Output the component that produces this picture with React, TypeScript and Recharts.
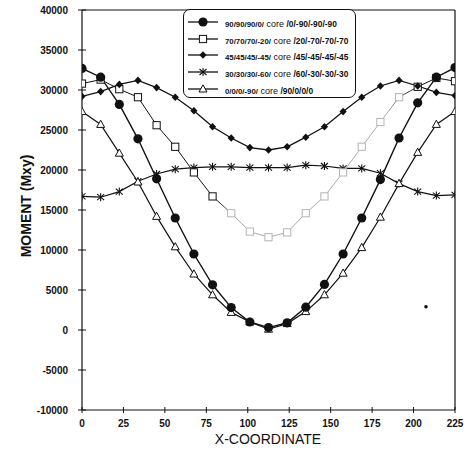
import React from "react"
import {
  LineChart,
  Line,
  XAxis,
  YAxis,
  ReferenceLine,
  ReferenceDot,
} from "recharts"

const xCoords = [0, 11.25, 22.5, 33.75, 45, 56.25, 67.5, 78.75, 90, 101.25, 112.5, 123.75, 135, 146.25, 157.5, 168.75, 180, 191.25, 202.5, 213.75, 225]

const m90 = [32700, 31600, 28200, 23900, 18900, 14000, 9500, 5650, 2800, 1000, 300, 900, 2850, 5700, 9500, 14000, 18800, 24000, 28400, 31600, 32800]
const m70 = [30800, 31300, 30100, 29100, 25600, 22900, 19700, 16700, 14600, 12300, 11600, 12200, 14600, 16700, 19700, 22900, 26000, 29100, 30400, 31500, 31100]
const m45 = [29200, 29800, 30700, 31200, 30300, 29100, 27400, 25400, 24000, 22800, 22500, 22900, 24100, 25400, 27300, 29100, 30500, 31200, 30500, 29700, 29300]
const m30 = [16700, 16600, 17300, 18600, 19500, 20100, 20300, 20400, 20400, 20300, 20300, 20300, 20600, 20500, 20200, 20200, 19600, 18300, 17300, 16800, 16900]
const m0 = [27300, 25700, 22100, 18500, 14200, 10400, 7000, 4400, 2200, 1000, 100, 800, 2300, 4400, 7100, 10300, 14100, 18300, 22200, 25700, 27300]

const xTicks = [0, 25, 50, 75, 100, 125, 150, 175, 200, 225]
const yTicks = [-10000, -5000, 0, 5000, 10000, 15000, 20000, 25000, 30000, 35000, 40000]

// stray speck on the scanned figure
const speck = { x: 207.5, y: 2900 }

const legendRows = [
  { key: "m90", shape: "circle", left: "90/90/90/0/", right: "/0/-90/-90/-90" },
  { key: "m70", shape: "square", left: "70/70/70/-20/", right: "/20/-70/-70/-70" },
  { key: "m45", shape: "diamond", left: "45/45/45/-45/", right: "/45/-45/-45/-45" },
  { key: "m30", shape: "star", left: "30/30/30/-60/", right: "/60/-30/-30/-30" },
  { key: "m0", shape: "triangle", left: "0/0/0/-90/", right: "/90/0/0/0" },
]

const data = xCoords.map((x, i) => ({
  x,
  m90: m90[i],
  m70: m70[i],
  m45: m45[i],
  m30: m30[i],
  m0: m0[i],
}))

const INK = "#111"
const FONT = "'Liberation Sans', Arial, sans-serif"

function Marker({ shape, cx, cy, faint }: { shape: string; cx: number; cy: number; faint?: boolean }) {
  const c = faint ? "#b5b5b5" : INK
  switch (shape) {
    case "circle":
      return <circle cx={cx} cy={cy} r={4.6} fill={c} />
    case "square":
      return <rect x={cx - 3.6} y={cy - 3.6} width={7.2} height={7.2} fill="#fff" stroke={c} strokeWidth={1} />
    case "diamond":
      return <polygon points={`${cx},${cy - 3.8} ${cx + 3.6},${cy} ${cx},${cy + 3.8} ${cx - 3.6},${cy}`} fill={c} />
    case "star":
      return (
        <g stroke={c} strokeWidth={1.1}>
          <line x1={cx} y1={cy - 4} x2={cx} y2={cy + 4} />
          <line x1={cx - 3.5} y1={cy - 3} x2={cx + 3.5} y2={cy + 3} />
          <line x1={cx - 3.5} y1={cy + 3} x2={cx + 3.5} y2={cy - 3} />
        </g>
      )
    default:
      return <polygon points={`${cx},${cy - 4.2} ${cx + 4},${cy + 3} ${cx - 4},${cy + 3}`} fill="#fff" stroke={c} strokeWidth={1} />
  }
}

const dotFor = (shape: string, faintFrom?: number, faintTo?: number) => (p: any) => {
  const faint = faintFrom !== undefined && p.payload.x >= faintFrom && p.payload.x <= (faintTo as number)
  return <Marker key={`${shape}-${p.index}`} shape={shape} cx={p.cx} cy={p.cy} faint={faint} />
}

const YTick = ({ x, y, payload }: any) => (
  <g>
    <line x1={x - 4} x2={x + 4} y1={y} y2={y} stroke={INK} strokeWidth={1} />
    <text x={x - 14} y={y} dy={3.5} textAnchor="end" fontSize={10} fontWeight="bold" fontFamily={FONT} fill={INK}>
      {payload.value}
    </text>
  </g>
)

const XTick = ({ x, y, payload }: any) => (
  <g>
    <line x1={x} x2={x} y1={y - 3} y2={y + 3} stroke={INK} strokeWidth={1} />
    <text x={x} y={y + 17} textAnchor="middle" fontSize={10} fontWeight="bold" fontFamily={FONT} fill={INK}>
      {payload.value}
    </text>
  </g>
)

function LegendBox() {
  return (
    <div
      style={{
        position: "absolute",
        left: 183,
        top: 9,
        width: 173,
        height: 89,
        boxSizing: "border-box",
        border: "1.6px solid #111",
        borderRadius: 7,
        background: "#fff",
        paddingTop: 4,
      }}
    >
      {legendRows.map((r) => (
        <div key={r.key} style={{ display: "flex", alignItems: "center", height: 16.6 }}>
          <svg width={36} height={12} style={{ marginLeft: 2, flex: "none" }}>
            <line x1={2} x2={32} y1={6} y2={6} stroke={INK} strokeWidth={1.3} />
            <Marker shape={r.shape} cx={17} cy={6} />
          </svg>
          <span style={{ marginLeft: 3, whiteSpace: "nowrap", fontFamily: FONT, color: INK, lineHeight: 1 }}>
            <span style={{ fontSize: 7.8, fontWeight: "bold" }}>{r.left}</span>
            <span style={{ fontSize: 9 }}> core </span>
            <span style={{ fontSize: 8.4, fontWeight: "bold" }}>{r.right}</span>
          </span>
        </div>
      ))}
    </div>
  )
}

export default function App() {
  return (
    <div style={{ position: "absolute", left: 0, top: 0, width: 469, height: 454, background: "#fff" }}>
      <LineChart width={469} height={454} data={data} margin={{ top: 10, right: 14, left: 0, bottom: 0 }}>
        <defs>
          <linearGradient id="fade70" x1="0" y1="0" x2="1" y2="0">
            <stop offset="0.36" stopColor={INK} />
            <stop offset="0.42" stopColor="#aaa" />
            <stop offset="0.82" stopColor="#aaa" />
            <stop offset="0.9" stopColor={INK} />
          </linearGradient>
        </defs>
        <XAxis
          dataKey="x"
          type="number"
          domain={[0, 225]}
          ticks={xTicks}
          interval={0}
          height={44}
          tickSize={0}
          tickMargin={0}
          tickLine={false}
          axisLine={{ stroke: INK, strokeWidth: 1.2 }}
          tick={<XTick />}
          allowDataOverflow
        />
        <YAxis
          type="number"
          domain={[-10000, 40000]}
          ticks={yTicks}
          interval={0}
          width={82}
          tickSize={0}
          tickMargin={0}
          tickLine={false}
          axisLine={{ stroke: INK, strokeWidth: 1.2 }}
          tick={<YTick />}
          allowDataOverflow
        />
        <ReferenceLine y={40000} stroke={INK} strokeWidth={1.2} />
        <ReferenceLine x={225} stroke={INK} strokeWidth={1.2} />
        <Line dataKey="m30" stroke={INK} strokeWidth={1.2} dot={dotFor("star")} isAnimationActive={false} />
        <Line dataKey="m70" stroke="url(#fade70)" strokeWidth={1} dot={dotFor("square", 88, 192)} isAnimationActive={false} />
        <Line dataKey="m45" stroke={INK} strokeWidth={1.3} dot={dotFor("diamond")} isAnimationActive={false} />
        <Line dataKey="m0" stroke={INK} strokeWidth={1.2} dot={dotFor("triangle")} isAnimationActive={false} />
        <Line dataKey="m90" stroke={INK} strokeWidth={1.4} dot={dotFor("circle")} isAnimationActive={false} />
        <ReferenceDot x={speck.x} y={speck.y} r={1.8} fill={INK} stroke="none" />
        <text x={268} y={444} textAnchor="middle" fontSize={14} fontFamily={FONT} fill={INK}>
          X-COORDINATE
        </text>
        <text
          x={31}
          y={206}
          textAnchor="middle"
          fontSize={14}
          fontWeight="bold"
          fontFamily={FONT}
          fill={INK}
          transform="rotate(-90 31 206)"
        >
          MOMENT (Mxy)
        </text>
      </LineChart>
      <LegendBox />
    </div>
  )
}
